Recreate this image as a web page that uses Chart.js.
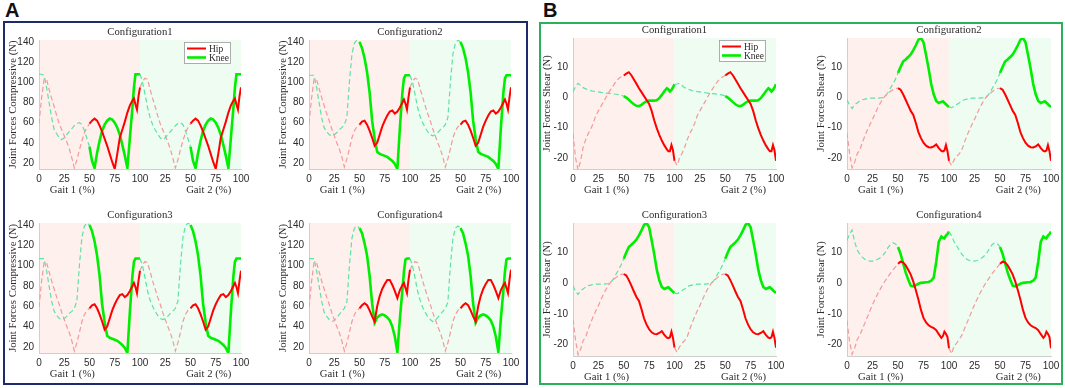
<!DOCTYPE html>
<html>
<head>
<meta charset="utf-8">
<script src="https://cdn.jsdelivr.net/npm/chart.js@4.4.1/dist/chart.umd.min.js"></script>
<style>
  body { margin: 0; width: 1065px; height: 388px; background: #fff; position: relative; overflow: hidden; }
  .frame { position: absolute; box-sizing: border-box; border: 2px solid; }
  .letter { position: absolute; font: bold 20px 'Liberation Sans', Arial, sans-serif; line-height: 1; color: #111; }
  canvas { position: absolute; }
</style>
</head>
<body>
<div class="frame" style="left:3px;top:21px;width:525px;height:364px;border-color:#1d2b6b"></div>
<div class="frame" style="left:539px;top:22px;width:524px;height:363px;border-color:#2ab25a"></div>
<div class="letter" style="left:5px;top:0px">A</div>
<div class="letter" style="left:543px;top:0px">B</div>
<script>
// gait cycle percentage (same grid for both gaits)
const pct = [0, 2.5, 5, 7.5, 10, 12.5, 15, 17.5, 20, 22.5, 25, 27.5, 30, 32.5, 35, 37.5, 40, 42.5, 45, 47.5,
  50, 52.5, 55, 57.5, 60, 62.5, 65, 67.5, 70, 72.5, 75, 77.5, 80, 82.5, 85, 87.5, 90, 92.5, 94, 95.5, 97, 98.5, 100];

const xTickValues = [0, 25, 50, 75, 100, 125, 150, 175, 200];
const xTickLabels = ['0', '25', '50', '75', '100', '25', '50', '75', '100'];
const compTicks = [20, 40, 60, 80, 100, 120, 140];
const shearTicks = [-20, -10, 0, 10];

// compressive forces (N), one gait cycle; *Open = first points of gait 1
const comp1Hip = [95, 101, 104, 103, 93, 84, 76, 67, 59, 53, 47, 41, 34, 25, 15, 23, 33, 42, 50, 55,
  59, 62, 64, 62, 57, 51, 44, 37, 29, 21, 14, 29, 45, 53, 61, 70, 77, 82, 84, 78, 73, 86, 95];
const comp1HipOpen = [59, 84, 103];
const comp1Knee = [108, 100, 88, 75, 65, 58, 53, 49, 45, 43, 45, 48, 51, 54, 57, 59, 60, 58, 52, 44,
  36, 22, 15, 30, 42, 52, 58, 62, 64, 63, 60, 55, 48, 38, 27, 15, 45, 75, 95, 108, 108, 108, 108];
const comp1KneeOpen = [108, 108, 107, 95, 80, 65];

const comp2Hip = [95, 101, 104, 103, 94, 85, 77, 69, 62, 54, 47, 40, 34, 26, 16, 24, 34, 45, 52, 56,
  58, 61, 62, 58, 52, 45, 37, 40, 48, 56, 62, 67, 71, 72, 69, 71, 75, 80, 83, 79, 73, 85, 95];
const comp2HipOpen = [59, 84, 103];
const comp2Knee = [107, 100, 88, 75, 66, 60, 55, 51, 48, 47, 48, 50, 53, 55, 58, 65, 100, 128, 139, 142,
  140, 134, 124, 110, 90, 62, 44, 31, 29, 28, 27, 26, 24, 22, 19, 14, 55, 90, 104, 107, 107, 107, 107];
const comp2KneeOpen = [107, 107, 107, 95, 80, 65];

const comp3Hip = [95, 101, 104, 103, 94, 85, 77, 69, 62, 54, 47, 40, 34, 26, 16, 24, 34, 45, 52, 56,
  58, 61, 62, 58, 52, 45, 37, 40, 48, 56, 62, 67, 71, 72, 69, 71, 75, 80, 83, 79, 73, 85, 95];
const comp3HipOpen = [59, 84, 103];
const comp3Knee = [107, 100, 88, 75, 66, 60, 55, 51, 48, 47, 48, 50, 53, 55, 58, 65, 100, 128, 139, 142,
  140, 134, 124, 110, 90, 62, 44, 31, 29, 28, 27, 26, 24, 22, 19, 14, 55, 90, 104, 107, 107, 107, 107];
const comp3KneeOpen = [107, 107, 107, 95, 80, 65];

const comp4Hip = [95, 101, 104, 103, 94, 85, 77, 69, 62, 54, 47, 40, 34, 26, 16, 24, 34, 45, 52, 56,
  58, 61, 63, 61, 56, 50, 45, 60, 70, 77, 82, 86, 86, 81, 75, 68, 76, 81, 83, 78, 73, 86, 96];
const comp4HipOpen = [59, 84, 103];
const comp4Knee = [107, 100, 88, 75, 66, 59, 54, 50, 47, 45, 46, 49, 52, 55, 58, 64, 100, 127, 137, 139,
  137, 132, 122, 110, 90, 63, 44, 49, 51, 52, 51, 49, 46, 40, 30, 15, 48, 76, 94, 106, 107, 107, 107];
const comp4KneeOpen = [107, 107, 107, 95, 80, 65];

// shear forces (N)
const shear1Hip = [-21, -22.5, -20, -18.5, -16.5, -14, -12, -10.5, -8.5, -6, -4.5, -3, -1.5, 0, 1.5, 2.8, 4, 5.3, 6.2, 6.8,
  7.2, 7.8, 8.3, 7.3, 5.9, 4.5, 3, 1.7, 0.4, -0.9, -2.2, -4.5, -7.6, -10.2, -12.4, -14.3, -15.9, -17.2, -17.8, -17.8, -15.8, -17.5, -21];
const shear1HipOpen = [-12, -20, -24, -21];
const shear1Knee = [4.3, 4.4, 4.6, 3.9, 3.2, 2.8, 2.5, 2.2, 2.0, 1.9, 1.8, 1.6, 1.5, 1.4, 1.3, 1.2, 1.1, 1.0, 0.9, 0.7,
  0.4, -0.1, -0.8, -1.6, -2.3, -2.8, -2.9, -2.5, -1.8, -1.3, -1.1, -1.1, -1.1, -1.0, -0.3, 0.8, 2.0, 3.0, 2.6, 1.9, 2.4, 3.3, 4.3];
const shear1KneeOpen = [1.8, 3.5];

const shear2Hip = [-21, -22.5, -20.7, -19.5, -18.7, -17.5, -15, -12.8, -10.8, -9, -7.3, -5.4, -3.6, -2, -0.6, 0.5, 1.2, 1.9, 2.5, 2.9,
  3.0, 2.5, 1.0, -0.8, -2.7, -4.5, -5.8, -8.5, -11.5, -13.5, -15, -16, -16.5, -16.6, -16.2, -15.6, -16.8, -17.7, -17.9, -17.6, -15.8, -17.8, -21];
const shear2HipOpen = [-11.8, -18.5, -23.3, -21.5];
const shear2Knee = [-3.2, -3.4, -3.0, -2.4, -1.9, -1.2, -0.8, -0.6, -0.4, -0.3, -0.3, -0.3, -0.3, -0.2, -0.1, 0.3, 1.5, 3, 4.4, 6,
  8, 10, 11.8, 12.5, 13.3, 14.2, 15.6, 17.2, 19, 19.6, 18.2, 14, 9.5, 4.5, 1, -1.2, -1.9, -1.5, -1.3, -1.8, -2.3, -2.8, -3.2];
const shear2KneeOpen = [-0.8, -2.6, -3.7];

const shear3Hip = [-21, -22.5, -20.7, -19.5, -18.7, -17.5, -15, -12.8, -10.8, -9, -7.3, -5.4, -3.6, -2, -0.6, 0.5, 1.2, 1.9, 2.5, 2.9,
  3.0, 2.5, 1.0, -0.8, -2.7, -4.5, -5.8, -8.5, -11.5, -13.5, -15, -16, -16.5, -16.6, -16.2, -15.6, -16.8, -17.7, -17.9, -17.6, -15.8, -17.8, -21];
const shear3HipOpen = [-11.8, -18.5, -23.3, -21.5];
const shear3Knee = [-3.2, -3.4, -3.0, -2.4, -1.9, -1.2, -0.8, -0.6, -0.4, -0.3, -0.3, -0.3, -0.3, -0.2, -0.1, 0.3, 1.5, 3, 4.4, 6,
  8, 10, 11.8, 12.5, 13.3, 14.2, 15.6, 17.2, 19, 19.6, 18.2, 14, 9.5, 4.5, 1, -1.2, -1.9, -1.5, -1.3, -1.8, -2.3, -2.8, -3.2];
const shear3KneeOpen = [-0.8, -2.6, -3.7];

const shear4Hip = [-21.2, -23, -20.5, -19.5, -18.3, -17, -15, -13, -11, -9, -7, -5.2, -3.5, -2, -0.5, 0.8, 2.0, 3.2, 4.3, 5.3,
  6.3, 7.0, 6.8, 5.8, 4.4, 2.8, 0.5, -2.3, -5.3, -8.7, -11.3, -12.8, -13.7, -14.2, -14.6, -15.3, -16.6, -17.8, -17.2, -15.8, -16.5, -17.5, -21.2];
const shear4HipOpen = [-12.2, -19, -23.1, -21.2];
const shear4Knee = [16.8, 15.5, 13.5, 12.2, 10.8, 9.5, 8.5, 7.8, 7.4, 7.2, 7.2, 7.4, 7.8, 8.3, 9.0, 10, 11.5, 12.6, 13.2, 12.8,
  11.8, 9.6, 6.5, 3.5, 1.2, -0.8, -1.0, -0.6, -0.2, 0.1, 0.2, 0.3, 0.4, 0.8, 1.8, 7, 13.5, 15.2, 14.8, 14.6, 15.5, 16, 16.8];
const shear4KneeOpen = [14, 16, 17.3, 13.5];

// styling
const SERIF = "'Liberation Serif', 'DejaVu Serif', serif";
const SANS = "'Liberation Sans Narrow', 'Liberation Sans', Arial, sans-serif";
const TEXT = '#2b2b2b';
const HIP = '#ff0000', HIP_SWING = '#f39a9a';
const KNEE = '#00ee00', KNEE_SWING = '#5fe2a3';
const PINK = '#fdf0ed', MINT = '#eefcf1';
const PAD_L = 36, PAD_T = 22, PAD_R = 14, PAD_B = 30;

function gaitSeries(open, cycle) {
  const pts = pct.map((p, i) => ({ x: p, y: i < open.length ? open[i] : cycle[i] }));
  for (let i = 1; i < pct.length; i++) pts.push({ x: 100 + pct[i], y: cycle[i] });
  return pts;
}

const isSwing = (c) => (c.p0.parsed.x % 100) < 50;

function lineSet(label, data, solid, swing, width) {
  return {
    label, data,
    borderColor: solid, borderWidth: width,
    pointRadius: 0, tension: 0,
    segment: {
      borderColor: (c) => isSwing(c) ? swing : undefined,
      borderDash: (c) => isSwing(c) ? [5, 3] : undefined,
      borderWidth: (c) => isSwing(c) ? 1.2 : undefined,
    },
  };
}

const decor = {
  id: 'decor',
  beforeDraw(chart, args, o) {
    const { ctx, chartArea: a, scales: { x } } = chart;
    const mid = x.getPixelForValue(100);
    ctx.save();
    ctx.fillStyle = PINK;
    ctx.fillRect(a.left, a.top, mid - a.left, a.bottom - a.top);
    ctx.fillStyle = MINT;
    ctx.fillRect(mid, a.top, a.right - mid, a.bottom - a.top);
    ctx.restore();
  },
  afterDraw(chart, args, o) {
    const { ctx, chartArea: a, scales: { x } } = chart;
    ctx.save();
    ctx.fillStyle = TEXT;
    ctx.textAlign = 'center';
    ctx.textBaseline = 'middle';
    ctx.font = '10.7px ' + SERIF;
    ctx.fillText(o.title, (a.left + a.right) / 2, a.top - 8);
    ctx.fillText('Gait 1 (%)', x.getPixelForValue(33), a.bottom + 21);
    ctx.fillText('Gait 2 (%)', x.getPixelForValue(168), a.bottom + 21);
    if (o.legend) {
      const bw = 46, bh = 21;
      const bx = a.right - 11 - bw, by = a.top + 2;
      ctx.fillStyle = '#fff';
      ctx.fillRect(bx, by, bw, bh);
      ctx.strokeStyle = '#9a9a9a';
      ctx.lineWidth = 0.8;
      ctx.strokeRect(bx + 0.5, by + 0.5, bw, bh);
      const rows = [['Hip', HIP, 2], ['Knee', KNEE, 2.6]];
      rows.forEach(([t, c, w], i) => {
        const yy = by + 6.5 + i * 9;
        ctx.strokeStyle = c;
        ctx.lineWidth = w;
        ctx.beginPath();
        ctx.moveTo(bx + 3, yy);
        ctx.lineTo(bx + 22, yy);
        ctx.stroke();
        ctx.fillStyle = TEXT;
        ctx.textAlign = 'left';
        ctx.font = '9.5px ' + SERIF;
        ctx.fillText(t, bx + 25, yy + 0.5);
      });
    }
    ctx.restore();
  },
};

function makeChart(sp) {
  const cv = document.createElement('canvas');
  const w = sp.right - sp.left + PAD_L + PAD_R;
  const h = sp.bottom - sp.top + PAD_T + PAD_B;
  cv.width = w;
  cv.height = h;
  cv.style.left = (sp.left - PAD_L) + 'px';
  cv.style.top = (sp.top - PAD_T) + 'px';
  cv.style.width = w + 'px';
  cv.style.height = h + 'px';
  document.body.appendChild(cv);

  new Chart(cv, {
    type: 'line',
    data: {
      datasets: [
        lineSet('Hip', gaitSeries(sp.hipOpen, sp.hip), HIP, HIP_SWING, 2),
        lineSet('Knee', gaitSeries(sp.kneeOpen, sp.knee), KNEE, KNEE_SWING, 2.6),
      ],
    },
    options: {
      responsive: false,
      animation: false,
      devicePixelRatio: 1,
      layout: { padding: { top: PAD_T, right: PAD_R, left: 0, bottom: 0 } },
      plugins: {
        legend: { display: false },
        tooltip: { enabled: false },
        decor: { title: sp.title, legend: sp.legend },
      },
      scales: {
        x: {
          type: 'linear', min: 0, max: 200,
          grid: { display: false, drawTicks: false, tickLength: 0 },
          border: { color: '#cfcfcf', width: 1 },
          afterBuildTicks: (s) => { s.ticks = xTickValues.map((v) => ({ value: v })); },
          afterFit: (s) => { s.height = PAD_B; },
          ticks: {
            callback: (v, i) => xTickLabels[i],
            font: { family: SANS, size: 10 }, color: TEXT,
            padding: 4, maxRotation: 0, autoSkip: false,
          },
        },
        y: {
          type: 'linear', min: sp.yMin, max: sp.yMax,
          grid: { display: false, drawTicks: false, tickLength: 0 },
          border: { color: '#cfcfcf', width: 1 },
          afterBuildTicks: (s) => { s.ticks = sp.yTicks.map((v) => ({ value: v })); },
          afterFit: (s) => { s.width = PAD_L; },
          ticks: { font: { family: SANS, size: 10 }, color: TEXT, padding: 5 },
          title: {
            display: true, text: sp.yTitle, color: TEXT,
            font: { family: SERIF, size: 10.7 }, padding: { top: 4, bottom: 0 },
          },
        },
      },
    },
    plugins: [decor],
  });
}

const comp = { yMin: 14, yMax: 142, yTicks: compTicks, yTitle: 'Joint Forces Compressive (N)' };
const shear = { yMin: -23.7, yMax: 19.6, yTicks: shearTicks, yTitle: 'Joint Forces Shear (N)' };

const subplots = [
  { ...comp, title: 'Configuration1', legend: true, left: 39, top: 40, right: 241, bottom: 169,
    hip: comp1Hip, hipOpen: comp1HipOpen, knee: comp1Knee, kneeOpen: comp1KneeOpen },
  { ...comp, title: 'Configuration2', left: 309, top: 40, right: 511, bottom: 169,
    hip: comp2Hip, hipOpen: comp2HipOpen, knee: comp2Knee, kneeOpen: comp2KneeOpen },
  { ...comp, title: 'Configuration3', left: 39, top: 223, right: 241, bottom: 353,
    hip: comp3Hip, hipOpen: comp3HipOpen, knee: comp3Knee, kneeOpen: comp3KneeOpen },
  { ...comp, title: 'Configuration4', left: 309, top: 223, right: 511, bottom: 353,
    hip: comp4Hip, hipOpen: comp4HipOpen, knee: comp4Knee, kneeOpen: comp4KneeOpen },
  { ...shear, title: 'Configuration1', legend: true, left: 573, top: 38, right: 776, bottom: 169,
    hip: shear1Hip, hipOpen: shear1HipOpen, knee: shear1Knee, kneeOpen: shear1KneeOpen },
  { ...shear, title: 'Configuration2', left: 847, top: 38, right: 1051, bottom: 169,
    hip: shear2Hip, hipOpen: shear2HipOpen, knee: shear2Knee, kneeOpen: shear2KneeOpen },
  { ...shear, title: 'Configuration3', left: 573, top: 223, right: 776, bottom: 356,
    hip: shear3Hip, hipOpen: shear3HipOpen, knee: shear3Knee, kneeOpen: shear3KneeOpen },
  { ...shear, title: 'Configuration4', left: 847, top: 223, right: 1051, bottom: 356,
    hip: shear4Hip, hipOpen: shear4HipOpen, knee: shear4Knee, kneeOpen: shear4KneeOpen },
];

subplots.forEach(makeChart);
</script>
</body>
</html>
